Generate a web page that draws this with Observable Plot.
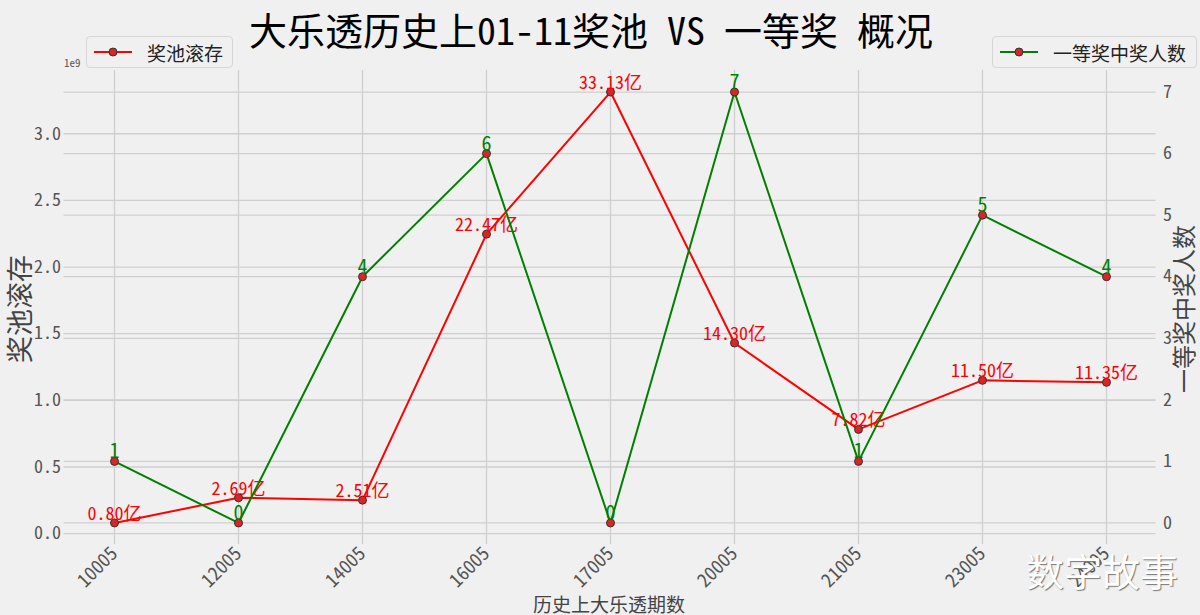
<!DOCTYPE html>
<html>
<head>
<meta charset="utf-8">
<script src="https://cdn.jsdelivr.net/npm/d3@7"></script>
<script src="https://cdn.jsdelivr.net/npm/@observablehq/plot@0.6"></script>
<style>
  html, body { margin: 0; padding: 0; background: #f0f0f0; }
  #wrap { position: relative; width: 1200px; height: 615px; overflow: hidden; background: #f0f0f0;
          font-family: 'Noto Sans Mono CJK SC', 'Noto Sans CJK SC', 'DejaVu Sans', sans-serif; }
  #chart { position: absolute; left: 0; top: 0; }
  .abs { position: absolute; white-space: nowrap; line-height: 1; }
  #title { left: 591px; top: 10px; transform: translateX(-50%); font-size: 38px; color: #000; }
  .legend { top: 36px; height: 32px; border: 1px solid #d6d6d6; border-radius: 4px; background: #f0f0f0;
            display: flex; align-items: center; font-size: 19px; color: #222; box-sizing: border-box; }
  .legend svg { margin-left: 6px; margin-right: 14px; }
  #e9 { left: 64px; top: 57px; font-size: 11px; color: #555; }
  #ylab { left: 18px; top: 309px; transform: translate(-50%, -50%) rotate(-90deg); font-size: 27px; color: #444; }
  #y2lab { left: 1183px; top: 309px; transform: translate(-50%, -50%) rotate(-90deg); font-size: 24px; color: #444; }
  #xlab { left: 609px; top: 603px; transform: translate(-50%, -50%); font-size: 19px; color: #444; }
  #wm { left: 1026px; top: 551px; font-size: 38px; color: #fff; text-shadow: 1px 1px 1px #777; font-family: 'Noto Sans CJK SC', sans-serif; }
</style>
</head>
<body>
<div id="wrap">
  <div id="chart"></div>
  <div id="title" class="abs">大乐透历史上01-11奖池 VS 一等奖 概况</div>
  <div id="e9" class="abs">1e9</div>
  <div class="abs legend" style="left:86px;width:147px;">
    <svg width="40" height="12"><line x1="1" y1="6" x2="39" y2="6" stroke="red" stroke-width="2"/><circle cx="20" cy="6" r="4" fill="#d62728" stroke="#333" stroke-width="1"/></svg>
    <span>奖池滚存</span>
  </div>
  <div class="abs legend" style="left:992px;width:205px;">
    <svg width="40" height="12"><line x1="1" y1="6" x2="39" y2="6" stroke="green" stroke-width="2"/><circle cx="20" cy="6" r="4" fill="#d62728" stroke="#333" stroke-width="1"/></svg>
    <span>一等奖中奖人数</span>
  </div>
  <div id="ylab" class="abs">奖池滚存</div>
  <div id="y2lab" class="abs">一等奖中奖人数</div>
  <div id="xlab" class="abs">历史上大乐透期数</div>
  <div id="wm" class="abs">数字故事</div>
</div>
<script>
// ---- data ----
const periods = ["10005", "12005", "14005", "16005", "17005", "20005", "21005", "23005", "24005"];
const poolYi = [0.80, 2.69, 2.51, 22.47, 33.13, 14.30, 7.82, 11.50, 11.35]; // 亿元
const winners = [1, 0, 4, 6, 0, 7, 1, 5, 4];
const leftTicks = [0, 0.5, 1.0, 1.5, 2.0, 2.5, 3.0]; // ×1e9
const rightTicks = [0, 1, 2, 3, 4, 5, 6, 7];

const rows = periods.map((p, i) => ({ period: p, pool: poolYi[i] / 10, poolYi: poolYi[i], winners: winners[i] }));

// matplotlib-like 5% margins
const pMin = d3.min(rows, d => d.pool), pMax = d3.max(rows, d => d.pool);
const L = [pMin - 0.05 * (pMax - pMin), pMax + 0.05 * (pMax - pMin)];
const wMin = d3.min(winners), wMax = d3.max(winners);
const R = [wMin - 0.05 * (wMax - wMin), wMax + 0.05 * (wMax - wMin)];
const toL = r => L[0] + (r - R[0]) / (R[1] - R[0]) * (L[1] - L[0]);
const fromL = v => R[0] + (v - L[0]) / (L[1] - L[0]) * (R[1] - R[0]);

const grid = "#cfcfcf";
const font = "'Noto Sans Mono CJK SC', 'Noto Sans CJK SC', 'DejaVu Sans', sans-serif";

const chart = Plot.plot({
  width: 1200,
  height: 615,
  marginTop: 70,
  marginBottom: 71,
  marginLeft: 63.5,
  marginRight: 44.5,
  style: { background: "transparent", fontFamily: font, overflow: "visible" },
  x: { type: "point", domain: periods, padding: 0.4 },
  y: { domain: L },
  marks: [
    Plot.ruleX(periods, { x: d => d, y1: L[0], y2: L[1], stroke: grid, strokeWidth: 1.3 }),
    Plot.ruleY(leftTicks, { stroke: grid, strokeWidth: 1.3 }),
    Plot.ruleY(rightTicks.map(toL), { stroke: grid, strokeWidth: 1.3 }),
    Plot.axisY(leftTicks, { anchor: "left", tickSize: 0, tickPadding: 3, tickFormat: d3.format(".1f"), fontSize: 18, color: "#555", label: null }),
    Plot.axisY(rightTicks.map(toL), { anchor: "right", tickSize: 0, tickPadding: 7, tickFormat: v => String(Math.round(fromL(v))), fontSize: 18, color: "#555", label: null }),
    Plot.axisX({ tickRotate: -45, tickSize: 0, tickPadding: 6, fontSize: 19, color: "#555", label: null }),
    // pool series
    Plot.line(rows, { x: "period", y: "pool", stroke: "red", strokeWidth: 2 }),
    Plot.dot(rows, { x: "period", y: "pool", r: 4, fill: "#d62728", stroke: "#333", strokeWidth: 1 }),
    Plot.text(rows, { x: "period", y: "pool", text: d => d.poolYi.toFixed(2) + "亿", fill: "red", fontSize: 18, lineAnchor: "bottom", dy: -3 }),
    // winners series
    Plot.line(rows, { x: "period", y: d => toL(d.winners), stroke: "green", strokeWidth: 2 }),
    Plot.dot(rows, { x: "period", y: d => toL(d.winners), r: 4, fill: "#d62728", stroke: "#333", strokeWidth: 1 }),
    Plot.text(rows, { x: "period", y: d => toL(d.winners), text: d => String(d.winners), fill: "green", fontSize: 20, lineAnchor: "bottom", dy: -3 })
  ]
});
document.getElementById("chart").appendChild(chart);
</script>
</body>
</html>
